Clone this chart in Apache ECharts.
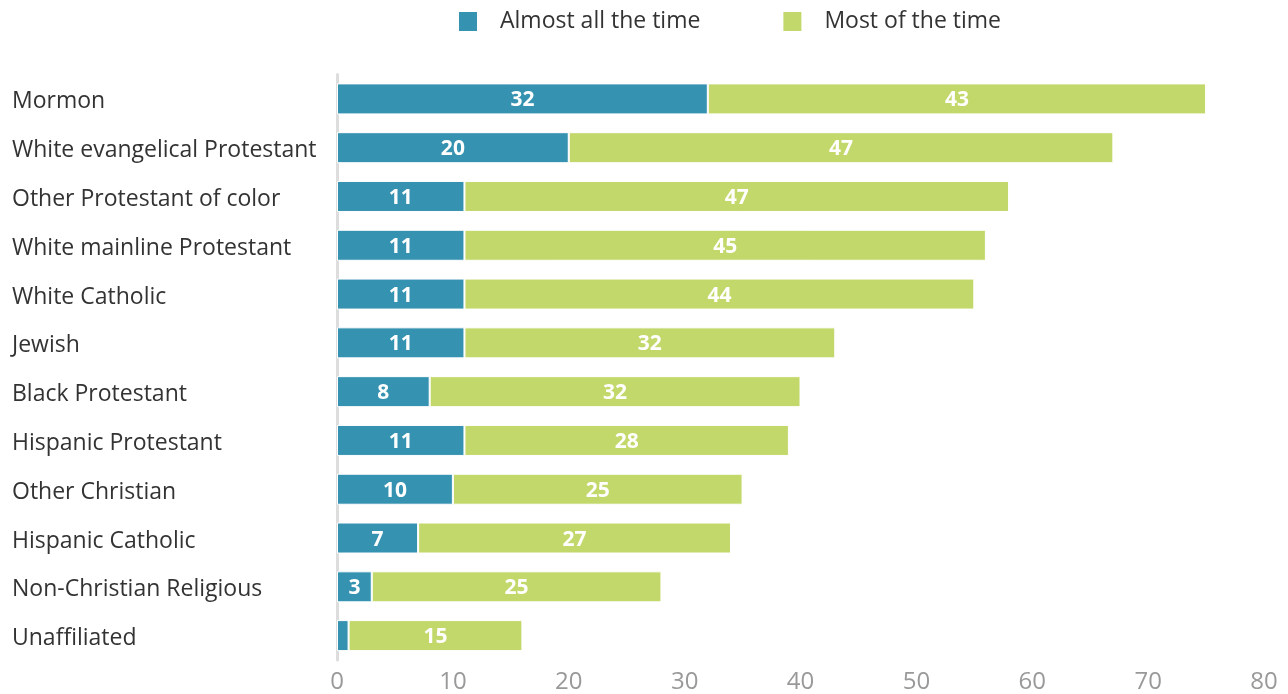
<!DOCTYPE html>
<html>
<head>
<meta charset="utf-8">
<script src="https://cdn.jsdelivr.net/npm/echarts@6/dist/echarts.min.js"></script>
<style>html,body{margin:0;padding:0;background:#fff}#c{width:1288px;height:694px}</style>
</head>
<body>
<div id="c"></div>
<script>
const categories = ["Mormon","White evangelical Protestant","Other Protestant of color","White mainline Protestant","White Catholic","Jewish","Black Protestant","Hispanic Protestant","Other Christian","Hispanic Catholic","Non-Christian Religious","Unaffiliated"];
const almostAll = [32,20,11,11,11,11,8,11,10,7,3,1];
const mostOf = [43,47,47,45,44,32,32,28,25,27,25,15];
const seriesNames = ["Almost all the time","Most of the time"];
const xTicks = [0,10,20,30,40,50,60,70,80];

const font = "'Open Sans', sans-serif";
const chart = echarts.init(document.getElementById('c'), null, {renderer:'canvas'});
const labelCfg = {
  show: true, position: 'inside', color: '#fff', fontFamily: font, fontWeight: 'bold', fontSize: 21,
  offset: [0, 1.5],
  formatter: p => p.value >= 2 ? String(p.value) : ''
};
chart.setOption({
  animation: false,
  legend: {
    top: 10, left: 459, padding: 0, itemWidth: 18, itemHeight: 19, itemGap: 83, icon: 'rect',
    itemStyle: {borderWidth: 0},
    textStyle: {fontFamily: font, fontSize: 23, color: '#333', padding: [0,0,0,18]},
    data: seriesNames
  },
  grid: {left: 337, right: 24, top: 74.5, bottom: 33.5, containLabel: false},
  xAxis: {
    type: 'value', min: xTicks[0], max: xTicks[xTicks.length-1], interval: 10,
    axisLine: {show: false}, axisTick: {show: false}, splitLine: {show: false},
    axisLabel: {fontFamily: font, fontSize: 24, color: '#999', margin: 10}
  },
  yAxis: {
    type: 'category', inverse: true, data: categories,
    axisLine: {show: true, lineStyle: {color: '#ddd', width: 3}},
    axisTick: {show: false},
    axisLabel: {align: 'left', margin: 325,
      formatter: v => '{a|' + v + '}',
      rich: {a: {fontFamily: font, fontSize: 23, color: '#333', padding: [6,0,0,0]}}}
  },
  series: [
    {name: seriesNames[0], type: 'bar', stack: 'a', data: almostAll, barWidth: 31,
     itemStyle: {color: '#3592b0', borderColor: '#fff', borderWidth: 1}, label: labelCfg},
    {name: seriesNames[1], type: 'bar', stack: 'a', data: mostOf, barWidth: 31,
     itemStyle: {color: '#c2d86b', borderColor: '#fff', borderWidth: 1}, label: labelCfg}
  ]
});
</script>
</body>
</html>
